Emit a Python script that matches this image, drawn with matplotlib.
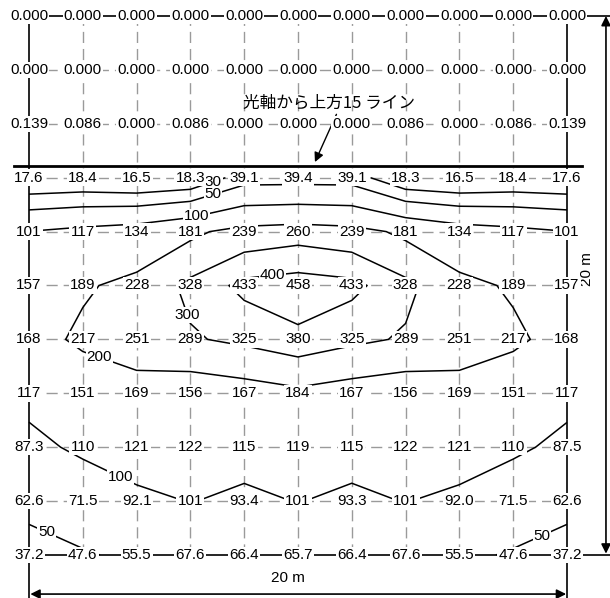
import numpy as np
import matplotlib
matplotlib.use("Agg")
import matplotlib.pyplot as plt

# illuminance values (lx), rows top -> bottom, 11 x 11 points over 20 m x 20 m
rows = [
    ["0.000"] * 11,
    ["0.000"] * 11,
    ["0.139", "0.086", "0.000", "0.086", "0.000", "0.000", "0.000", "0.086", "0.000", "0.086", "0.139"],
    ["17.6", "18.4", "16.5", "18.3", "39.1", "39.4", "39.1", "18.3", "16.5", "18.4", "17.6"],
    ["101", "117", "134", "181", "239", "260", "239", "181", "134", "117", "101"],
    ["157", "189", "228", "328", "433", "458", "433", "328", "228", "189", "157"],
    ["168", "217", "251", "289", "325", "380", "325", "289", "251", "217", "168"],
    ["117", "151", "169", "156", "167", "184", "167", "156", "169", "151", "117"],
    ["87.3", "110", "121", "122", "115", "119", "115", "122", "121", "110", "87.5"],
    ["62.6", "71.5", "92.1", "101", "93.4", "101", "93.3", "101", "92.0", "71.5", "62.6"],
    ["37.2", "47.6", "55.5", "67.6", "66.4", "65.7", "66.4", "67.6", "55.5", "47.6", "37.2"],
]
levels = [30, 50, 100, 200, 300, 400]
first_contour_row = 3  # rows below the 15 deg line
line15_y = 14.43
# where each iso-line gets its number (level, x, y)
label_pos = [(30, 6.9, 13.7), (50, 6.9, 13.2), (100, 6.2, 12.7), (400, 9.0, 10.8),
             (300, 5.3, 8.7), (200, 2.5, 7.0), (100, 3.3, 2.7), (50, 1.1, 1.85),
             (50, 18.5, 2.0)]

xs = np.linspace(0, 20, 11)
ys = np.linspace(20, 0, 11)
Z = np.array([[float(v) for v in r] for r in rows])

fig = plt.figure(figsize=(6.1, 5.98), dpi=100)
ax = fig.add_axes([0, 0, 1, 1])
ax.set_xlim(-1.078, 21.6)
ax.set_ylim(-1.596, 20.594)
ax.axis("off")

grid_kw = dict(color="#9a9a9a", lw=1, dashes=(8, 4.3), zorder=1)
for x in xs[1:-1]:
    ax.plot([x, x], [0, 20], **grid_kw)
for y in ys[1:-1]:
    ax.plot([0, 20], [y, y], **grid_kw)
ax.plot([0, 21.6], [20, 20], color="black", lw=1.2, zorder=1)
ax.plot([0, 21.6], [0, 0], color="black", lw=1.2, zorder=1)
ax.plot([0, 0], [20, -1.6], color="black", lw=1.2, zorder=1)
ax.plot([20, 20], [20, -1.6], color="black", lw=1.2, zorder=1)

# 15 deg line
ax.plot([-0.56, 20.56], [line15_y, line15_y], color="black", lw=2, zorder=2)

# iso-lux lines (log of values so they sit between points like the original)
cs = ax.contour(xs, ys[first_contour_row:], np.log(Z[first_contour_row:]),
                levels=np.log(levels), colors="black", linewidths=1.1, zorder=2)

# labels: nearest point of that level's line
for lev, lx, ly in label_pos:
    segs = cs.allsegs[levels.index(lev)]
    pts = np.vstack([s for s in segs if len(s)])
    k = np.argmin((pts[:, 0] - lx) ** 2 + (pts[:, 1] - ly) ** 2)
    # move along the line a little: pick point on a segment, not only vertices
    best = None
    for s in segs:
        for a, b in zip(s[:-1], s[1:]):
            d = b - a
            t = np.clip(np.dot([lx, ly] - a, d) / max(np.dot(d, d), 1e-12), 0, 1)
            p = a + t * d
            dist = (p[0] - lx) ** 2 + (p[1] - ly) ** 2
            if best is None or dist < best[0]:
                best = (dist, p)
    p = best[1] if best is not None else pts[k]
    ax.text(p[0], p[1], str(lev), ha="center", va="center", fontsize=11,
            family="Liberation Sans", zorder=3,
            bbox=dict(boxstyle="square,pad=0.05", fc="white", ec="none"))

# values
for i, r in enumerate(rows):
    for j, v in enumerate(r):
        ax.text(xs[j], ys[i], v, ha="center", va="center", fontsize=11,
                family="Liberation Sans", zorder=4,
                bbox=dict(boxstyle="square,pad=0.08", fc="white", ec="none"))

# dimensions
ax.annotate("", xy=(21.45, 20.0), xytext=(21.45, 0.05),
            arrowprops=dict(arrowstyle="<|-|>", color="black", lw=1.2,
                            mutation_scale=14, shrinkA=0, shrinkB=0))
ax.annotate("", xy=(0.05, -1.45), xytext=(19.97, -1.45),
            arrowprops=dict(arrowstyle="<|-|>", color="black", lw=1.2,
                            mutation_scale=14, shrinkA=0, shrinkB=0))
ax.text(20.74, 10.6, "20 m", rotation=90, ha="center", va="center",
        fontsize=11, family="Liberation Sans")
ax.text(9.63, -0.85, "20 m", ha="center", va="center",
        fontsize=11, family="Liberation Sans")

ax.annotate("光軸から上方15 ライン", xy=(10.63, 14.58), xytext=(7.96, 16.77),
            ha="left", va="center", fontsize=12,
            family=["Noto Sans CJK JP", "DejaVu Sans"],
            arrowprops=dict(arrowstyle="-|>", color="black", lw=1,
                            shrinkA=0, shrinkB=0, mutation_scale=14,
                            relpos=(0.55, 0.0)))

fig.savefig("out.png", dpi=100)
